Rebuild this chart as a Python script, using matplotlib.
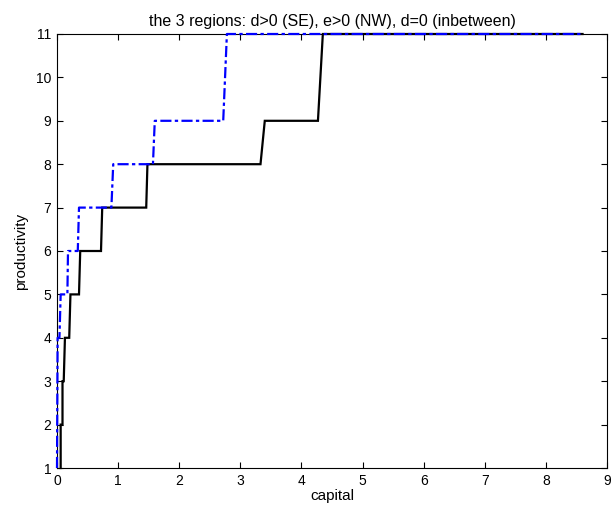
import matplotlib
matplotlib.use("Agg")
import matplotlib.pyplot as plt

plt.rcParams['font.family'] = ['Liberation Sans', 'DejaVu Sans']

# Black solid curve (corner points)
black_x = [0.06, 0.06, 0.09, 0.09, 0.11, 0.13, 0.20, 0.22, 0.36, 0.38, 0.72, 0.74, 1.46, 1.48, 3.33, 3.40, 4.27, 4.35, 8.60]
black_y = [1, 2, 2, 3, 3, 4, 4, 5, 5, 6, 6, 7, 7, 8, 8, 9, 9, 11, 11]

# Blue dash-dot curve (corner points)
blue_x = [0.00, 0.01, 0.04, 0.06, 0.17, 0.18, 0.34, 0.36, 0.89, 0.92, 1.57, 1.60, 2.72, 2.78, 8.60]
blue_y = [1, 4, 4, 5, 5, 6, 6, 7, 7, 8, 8, 9, 9, 11, 11]

x_ticks = list(range(0, 10))
y_ticks = list(range(1, 12))

title = "the 3 regions: d>0 (SE), e>0 (NW), d=0 (inbetween)"
xlabel = "capital"
ylabel = "productivity"

fig = plt.figure(figsize=(6.12, 5.12), dpi=100)
ax = fig.add_axes([57/612, 44/512, 550/612, 434/512])

ax.plot(black_x, black_y, color='black', lw=1.6, solid_joinstyle='miter',
        clip_on=False, zorder=3)
ax.plot(blue_x, blue_y, color=(0, 0, 1), lw=1.6, linestyle=(0, (5, 1.5, 1.5, 1.5)),
        clip_on=False, zorder=4)

ax.set_xlim(0, 9)
ax.set_ylim(1, 11)
ax.set_xticks(x_ticks)
ax.set_yticks(y_ticks)
ax.tick_params(direction='in', length=4, width=0.8, top=True, right=True,
               labelsize=10, pad=4)
for s in ax.spines.values():
    s.set_linewidth(0.8)
    s.set_color('black')

ax.set_title(title, fontsize=11.5, pad=6)
ax.set_xlabel(xlabel, fontsize=11, labelpad=1)
ax.set_ylabel(ylabel, fontsize=11, labelpad=6)

fig.savefig("out.png", dpi=100)
